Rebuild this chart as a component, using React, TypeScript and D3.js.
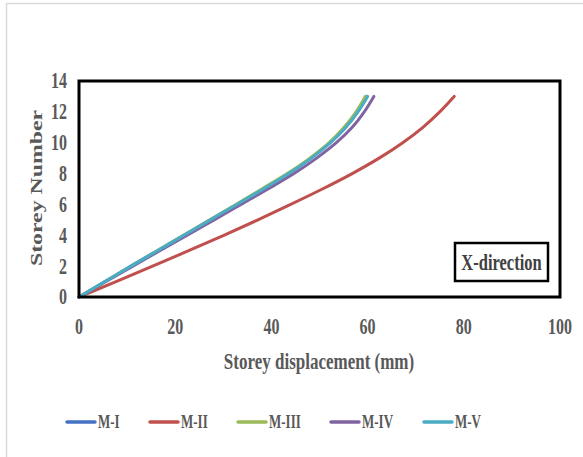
import React from "react";
import * as d3 from "d3";

const storeys = [0, 1, 2, 3, 4, 5, 6, 7, 8, 9, 10, 11, 12, 13];
const seriesNames = ["M-I", "M-II", "M-III", "M-IV", "M-V"];
const seriesColors = ["#4472C4", "#C0504D", "#9BBB59", "#8064A2", "#4BACC6"];
const mI = [0, 5.4, 10.8, 16.3, 21.8, 27.3, 32.8, 38.2, 43.5, 48.2, 52.2, 55.4, 57.9, 59.9];
const mII = [0, 7.7, 15.3, 22.8, 30.1, 37.2, 44.0, 50.6, 56.8, 62.4, 67.3, 71.5, 75.0, 78.0];
const mIII = [0, 5.4, 10.8, 16.2, 21.7, 27.2, 32.6, 38.0, 43.3, 48.0, 52.0, 55.1, 57.6, 59.5];
const mIV = [0, 5.6, 11.2, 16.8, 22.5, 28.1, 33.7, 39.3, 44.7, 49.4, 53.5, 56.8, 59.3, 61.3];
const mV = [0, 5.4, 10.8, 16.3, 21.8, 27.3, 32.8, 38.3, 43.6, 48.3, 52.3, 55.5, 58.0, 60.0];
const xTicks = [0, 20, 40, 60, 80, 100];
const yTicks = [0, 2, 4, 6, 8, 10, 12, 14];

const W = 583;
const H = 457;
const left = 79, right = 560, top = 81, bottom = 297;
const FONT = "'Liberation Serif', 'Times New Roman', serif";
const TXT = "#595959";
const SY = 1.4;

export default function App() {
  const x = d3.scaleLinear().domain([0, 100]).range([left, right]);
  const y = d3.scaleLinear().domain([0, 14]).range([bottom, top]);
  const all = [mI, mII, mIII, mIV, mV];
  const line = d3
    .line<[number, number]>()
    .x((d) => x(d[0]))
    .y((d) => y(d[1]))
    .curve(d3.curveMonotoneY);

  const legendX = [67, 150, 238, 331, 424];
  const legendY = 422;

  return (
    <svg
      width={W}
      height={H}
      style={{ position: "absolute", left: 0, top: 0, background: "#fff" }}
    >
      <rect x={6.5} y={3.5} width={700} height={600} fill="#fff" stroke="#d9d9d9" strokeWidth={1.5} />
      {all.map((vals, i) => (
        <path
          key={seriesNames[i]}
          d={line(vals.map((v, k) => [v, storeys[k]] as [number, number])) || ""}
          fill="none"
          stroke={seriesColors[i]}
          strokeWidth={3}
          strokeLinecap="round"
        />
      ))}
      <rect x={left} y={top} width={right - left} height={bottom - top} fill="none" stroke="#000" strokeWidth={3} />
      {yTicks.map((t) => (
        <text
          key={"y" + t}
          transform={`translate(67,${y(t)}) scale(1,${SY})`}
          textAnchor="end"
          dominantBaseline="central"
          fontFamily={FONT}
          fontWeight="bold"
          fontSize={16}
          fill={TXT}
        >
          {t}
        </text>
      ))}
      {xTicks.map((t) => (
        <text
          key={"x" + t}
          transform={`translate(${x(t)},327) scale(1,${SY})`}
          textAnchor="middle"
          dominantBaseline="central"
          fontFamily={FONT}
          fontWeight="bold"
          fontSize={16}
          fill={TXT}
        >
          {t}
        </text>
      ))}
      <text
        transform={`translate(${(228 + 410) / 2},361) scale(1,${SY})`}
        textAnchor="middle"
        dominantBaseline="central"
        fontFamily={FONT}
        fontWeight="bold"
        fontSize={17}
        fill={TXT}
      >
        Storey displacement (mm)
      </text>
      <text
        transform={`translate(36,188) rotate(-90) scale(${SY},1)`}
        textAnchor="middle"
        dominantBaseline="central"
        fontFamily={FONT}
        fontWeight="bold"
        fontSize={17}
        fill={TXT}
      >
        Storey Number
      </text>
      <rect x={455} y={243} width={93} height={38} fill="#fff" stroke="#000" strokeWidth={2.5} />
      <text
        transform={`translate(501.5,262) scale(1,${SY})`}
        textAnchor="middle"
        dominantBaseline="central"
        fontFamily={FONT}
        fontWeight="bold"
        fontSize={16.5}
        fill="#404040"
      >
        X-direction
      </text>
      {seriesNames.map((n, i) => (
        <g key={"lg" + n}>
          <line
            x1={legendX[i]}
            x2={legendX[i] + 28}
            y1={legendY}
            y2={legendY}
            stroke={seriesColors[i]}
            strokeWidth={3.5}
            strokeLinecap="round"
          />
          <text
            transform={`translate(${legendX[i] + 31},${legendY}) scale(1,1.5)`}
            dominantBaseline="central"
            fontFamily={FONT}
            fontWeight="bold"
            fontSize={13}
            fill={TXT}
          >
            {n}
          </text>
        </g>
      ))}
    </svg>
  );
}
